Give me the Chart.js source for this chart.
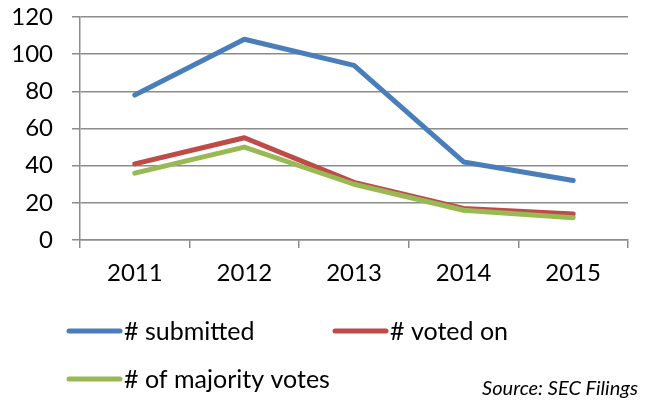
<!DOCTYPE html>
<html>
<head>
<meta charset="utf-8">
<script src="https://cdn.jsdelivr.net/npm/chart.js@4.4.1/dist/chart.umd.min.js"></script>
<style>
  html, body { margin: 0; padding: 0; background: #fff; }
  #wrap { width: 646px; height: 404px; position: relative; }
</style>
</head>
<body>
<div id="wrap"><canvas id="chart" width="646" height="404"></canvas></div>
<script>
const years = ["2011", "2012", "2013", "2014", "2015"];
const submitted = [78, 108, 94, 42, 32];
const votedOn = [41, 55, 31, 17, 14];
const majorityVotes = [36, 50, 30, 16, 12];
const yMin = 0;
const yMax = 120;
const yStep = 20;

const FONT = "Lato, 'Liberation Sans', sans-serif";
const GRID = "#8c8c8c";

// where each legend entry sits under the plot
const legendSlots = [
  { x: 67, y: 331 },
  { x: 333, y: 331 },
  { x: 67, y: 379 },
];

const lineLegend = {
  id: "lineLegend",
  afterDraw(chart) {
    const ctx = chart.ctx;
    ctx.save();
    chart.data.datasets.forEach((ds, i) => {
      const slot = legendSlots[i];
      ctx.strokeStyle = ds.borderColor;
      ctx.lineWidth = 5;
      ctx.lineCap = "round";
      ctx.beginPath();
      ctx.moveTo(slot.x + 2, slot.y);
      ctx.lineTo(slot.x + 53, slot.y);
      ctx.stroke();
      ctx.fillStyle = "#000";
      ctx.font = "25px " + FONT;
      ctx.textBaseline = "middle";
      ctx.fillText(ds.label, slot.x + 57, slot.y + 1);
    });
    ctx.font = "italic 20px " + FONT;
    ctx.textAlign = "right";
    ctx.textBaseline = "middle";
    ctx.fillText("Source: SEC Filings", 638, 389);
    ctx.restore();
  },
};

function series(label, data, color, order) {
  return {
    label: label,
    data: data,
    borderColor: color,
    backgroundColor: color,
    borderWidth: 5,
    borderCapStyle: "round",
    borderJoinStyle: "round",
    pointRadius: 0,
    tension: 0,
    order: order,
  };
}

new Chart(document.getElementById("chart"), {
  type: "line",
  data: {
    labels: years,
    datasets: [
      series("# submitted", submitted, "#4a7ebb", 0),
      series("# voted on", votedOn, "#be4b48", 2),
      series("# of majority votes", majorityVotes, "#98b954", 1),
    ],
  },
  options: {
    responsive: false,
    animation: false,
    layout: { padding: { top: 17, right: 18, left: 0, bottom: 0 } },
    plugins: {
      legend: { display: false },
      tooltip: { enabled: false },
    },
    scales: {
      x: {
        offset: true,
        grid: {
          offset: true,
          drawOnChartArea: false,
          drawTicks: true,
          tickLength: 8,
          color: GRID,
          lineWidth: 1.5,
        },
        border: { color: GRID, width: 1.5 },
        ticks: {
          color: "#000",
          padding: 11,
          font: { family: FONT, size: 24 },
          maxRotation: 0,
        },
        afterFit(scale) {
          scale.height = 164;
          scale.paddingLeft = 0;
          scale.paddingRight = 0;
        },
      },
      y: {
        min: yMin,
        max: yMax,
        grid: {
          color: GRID,
          lineWidth: 1.5,
          tickLength: 8,
        },
        border: { color: GRID, width: 1.5 },
        ticks: {
          stepSize: yStep,
          color: "#000",
          padding: 19,
          font: { family: FONT, size: 24 },
        },
        afterFit(scale) {
          scale.width = 80;
          scale.paddingTop = 0;
          scale.paddingBottom = 0;
        },
      },
    },
  },
  plugins: [lineLegend],
});
</script>
</body>
</html>
